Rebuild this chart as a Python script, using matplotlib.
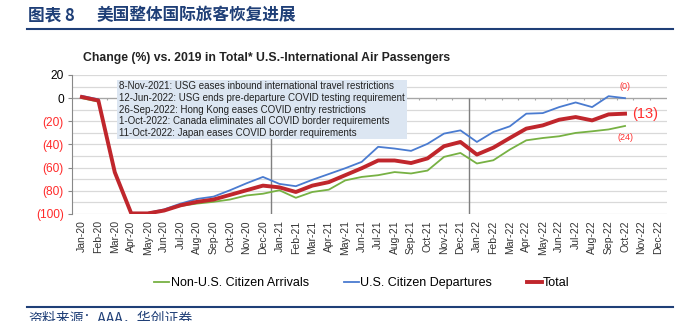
import matplotlib.pyplot as plt
from matplotlib.lines import Line2D
from matplotlib.patches import Rectangle

plt.rcParams['font.family'] = ['Liberation Sans', 'DejaVu Sans']

# data (Jan-20 .. Oct-22)
months = [f"{m}-{y}" for y in ("20", "21", "22")
          for m in ("Jan", "Feb", "Mar", "Apr", "May", "Jun",
                    "Jul", "Aug", "Sep", "Oct", "Nov", "Dec")]
non_us_arrivals = [0, -3, -64, -99.5, -99.5, -97, -93, -91, -89.5, -87.5, -84, -82.5,
                   -79.5, -86, -81, -79, -71, -68, -66.5, -63.8, -65, -62.5, -50.7, -47.3,
                   -56.4, -53.6, -44.4, -36.4, -34.4, -32.9, -30, -28.6, -27, -24]
us_departures = [2, -1, -63, -99, -99, -96, -91, -87, -85, -79.5, -73.5, -68,
                 -74, -76, -70.5, -65.5, -60.5, -55, -42, -43.5, -45.5, -39.4, -30.6, -27.8,
                 -37.8, -29.2, -24.3, -13.4, -12.9, -7.7, -3.7, -7.7, 1.7, 0]
total = [1, -2, -64, -99.5, -99.5, -97, -92.5, -89.5, -87.5, -83.5, -79.5, -75.5,
         -77, -81, -75.5, -72.5, -66.5, -60.5, -53.8, -53.8, -56, -52, -41.5, -37.8,
         -48.7, -42.7, -34.4, -26.3, -23.5, -18.6, -16.3, -19.2, -14, -13.4]
events = [
    "8-Nov-2021: USG eases inbound international travel restrictions",
    "12-Jun-2022: USG ends pre-departure COVID testing requirement",
    "26-Sep-2022: Hong Kong eases COVID entry restrictions",
    "1-Oct-2022: Canada eliminates all COVID border requirements",
    "11-Oct-2022: Japan eases COVID border requirements",
]
year_breaks = [11.5, 23.5]

W, H = 692, 321


def fx(px):
    return px / W


def fy(py):
    return 1 - py / H


fig = plt.figure(figsize=(W / 100, H / 100), dpi=100)
navy = '#1f3f77'
cjk = ['Noto Sans CJK SC', 'DejaVu Sans']

# page header / footer
fig.text(fx(28), fy(15), '图表 8', fontsize=12, fontweight='bold', color=navy,
         va='center', family=cjk)
fig.text(fx(97), fy(15), '美国整体国际旅客恢复进展', fontsize=12, fontweight='bold',
         color=navy, va='center', family=cjk)
fig.add_artist(Line2D([fx(27), fx(673)], [fy(29)] * 2, color=navy, lw=1.5))
fig.add_artist(Line2D([fx(27), fx(673)], [fy(307)] * 2, color=navy, lw=1.5))
fig.text(fx(28), fy(311), '资料来源：AAA，华创证券', fontsize=10, style='italic',
         color=navy, va='top', family=cjk)

fig.text(fx(267), fy(58), 'Change (%) vs. 2019 in Total* U.S.-International Air Passengers',
         ha='center', va='center', fontsize=8.8, fontweight='bold', color='#222222')

ax = fig.add_axes([fx(72), fy(214), fx(667) - fx(72), fy(75) - fy(214)])
x = list(range(len(total)))

ax.set_xlim(-0.6, 35.55)
ax.set_ylim(-100, 20)
ax.set_yticks(range(-100, 21, 20))
ax.set_yticks(range(-90, 20, 20), minor=True)
ax.set_yticklabels([str(v) if v >= 0 else f"({-v})" for v in range(-100, 21, 20)])
for lab, v in zip(ax.get_yticklabels(), range(-100, 21, 20)):
    lab.set_color('black' if v >= 0 else '#ff2a2a')
ax.tick_params(axis='y', which='major', labelsize=8.6, length=3, color='#888888', pad=3)
ax.tick_params(axis='y', which='minor', length=0)
ax.set_xticks(range(len(months)))
ax.set_xticklabels(months, rotation=90, fontsize=7.5, color='#333333')
ax.tick_params(axis='x', length=0, pad=4.5)
ax.grid(axis='y', which='both', color='#d9d9d9', lw=0.9)
ax.set_axisbelow(True)
for s in ('top', 'right', 'bottom'):
    ax.spines[s].set_visible(False)
ax.spines['left'].set_color('#888888')

ax.axhline(0, color='#a6a6a6', lw=0.9, zorder=1)
ax.vlines([i + 0.5 for i in range(len(months) - 1)], -2, 0, color='#a6a6a6', lw=0.8, zorder=1)
ax.vlines(year_breaks, -100, 0, color='#7f7f7f', lw=1.0, zorder=1)

l1, = ax.plot(x, non_us_arrivals, color='#77b143', lw=1.3, zorder=3)
l2, = ax.plot(x, us_departures, color='#4a7bd0', lw=1.3, zorder=3)
l3, = ax.plot(x, total, color='#c0262c', lw=2.8, zorder=4)

red = '#ff3030'
ax.annotate(f"({abs(round(us_departures[-1]))})", (x[-1], us_departures[-1]),
            xytext=(0, 5), textcoords='offset points', ha='center', va='bottom',
            fontsize=6.5, color=red)
ax.annotate(f"({abs(round(total[-1]))})", (x[-1], total[-1]),
            xytext=(5, 0), textcoords='offset points', ha='left', va='center',
            fontsize=10.5, color=red)
ax.annotate(f"({abs(round(non_us_arrivals[-1]))})", (x[-1], non_us_arrivals[-1]),
            xytext=(0, -5), textcoords='offset points', ha='center', va='top',
            fontsize=6.5, color=red)

# event box
fig.add_artist(Rectangle((fx(117), fy(139)), fx(407) - fx(117), (139 - 80) / H,
                         transform=fig.transFigure, facecolor='#dce6f2',
                         edgecolor='none', zorder=3))
for i, e in enumerate(events):
    fig.text(fx(119), fy(86 + 11.8 * i), e, va='center', fontsize=7.05,
             color='#222222', zorder=4)

fig.legend([l1, l2, l3], ['Non-U.S. Citizen Arrivals', 'U.S. Citizen Departures', 'Total'],
           loc='center', bbox_to_anchor=(fx(362), fy(283)), ncol=3, frameon=False,
           fontsize=9, handlelength=1.2, handletextpad=0.1, columnspacing=2.8)

fig.savefig('out.png', dpi=100)
